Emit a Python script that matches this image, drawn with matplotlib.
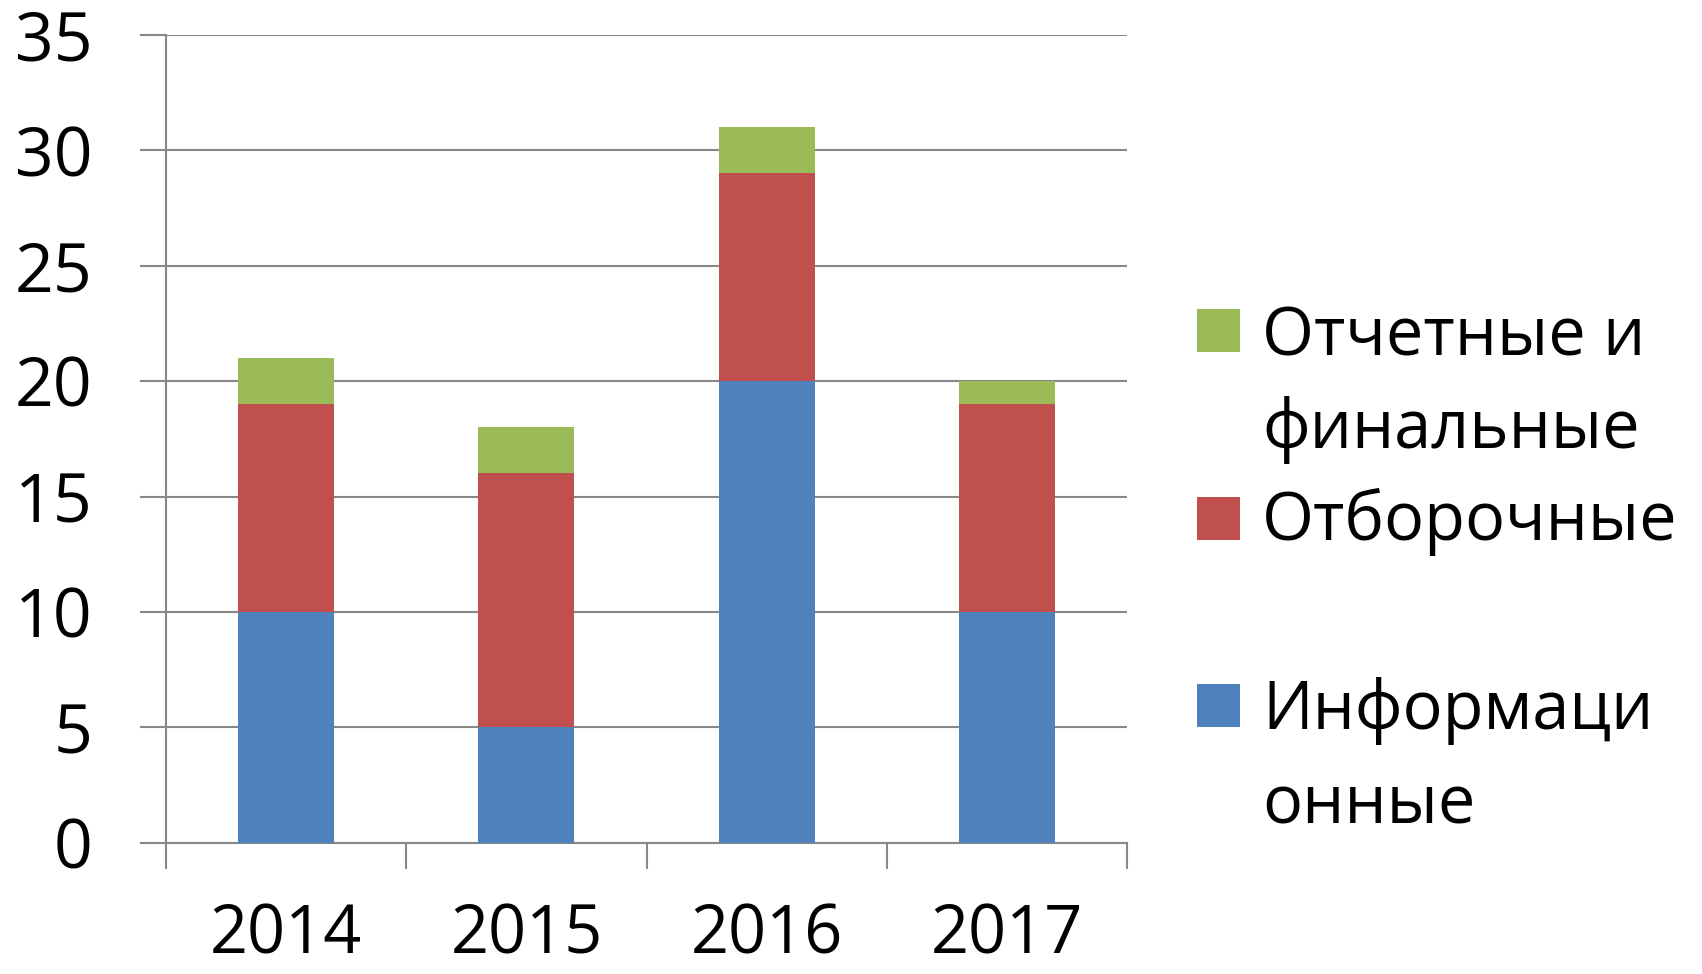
import matplotlib
matplotlib.use("Agg")
import matplotlib.pyplot as plt
from matplotlib.patches import Rectangle
import numpy as np

# dati
years = ['2014', '2015', '2016', '2017']
informacionnye = [10, 5, 20, 10]
otborochnye = [9, 11, 9, 9]
otchetnye = [2, 2, 2, 1]

labels = ['Отчетные и\nфинальные', 'Отборочные', 'Информаци\nонные']
colors = ['#9BBB59', '#C0504D', '#4F81BD']
grid_col = '#888888'

plt.rcParams['font.family'] = ['Open Sans', 'DejaVu Sans']

fig = plt.figure(figsize=(17.02, 9.74), dpi=100)
W, H = 1702, 974
ax = fig.add_axes([166 / W, 1 - 842.7 / H, (1127 - 166) / W, (842.7 - 35) / H])

x = np.arange(len(years))
bw = 0.4
ax.bar(x, informacionnye, bw, color=colors[2], zorder=3)
ax.bar(x, otborochnye, bw, bottom=informacionnye, color=colors[1], zorder=3)
bottom2 = [a + b for a, b in zip(informacionnye, otborochnye)]
ax.bar(x, otchetnye, bw, bottom=bottom2, color=colors[0], zorder=3)

ax.set_xlim(-0.5, 3.5)
ax.set_ylim(0, 35)
ax.set_yticks(range(0, 36, 5))
ax.yaxis.grid(True, color=grid_col, linewidth=1.5, zorder=0)
ax.tick_params(axis='y', length=19, width=1.5, color=grid_col, labelsize=49, pad=34)

ax.set_xticks(x)
ax.set_xticklabels(years)
ax.set_xticks(np.arange(-0.5, 4, 1), minor=True)
ax.tick_params(axis='x', which='major', length=0, labelsize=48, pad=43)
ax.tick_params(axis='x', which='minor', length=19, width=1.5, color=grid_col)

for s in ['top', 'right']:
    ax.spines[s].set_visible(False)
for s in ['left', 'bottom']:
    ax.spines[s].set_color(grid_col)
    ax.spines[s].set_linewidth(1.5)

# legenda fatta a mano
entries = [(309, [355, 448]), (497, [540]), (684, [729, 823])]
for (ptop, baselines), lab, c in zip(entries, labels, colors):
    fig.patches.append(Rectangle((1197 / W, 1 - (ptop + 43) / H), 43 / W, 43 / H,
                                 transform=fig.transFigure, facecolor=c, edgecolor='none'))
    for line, b in zip(lab.split('\n'), baselines):
        fig.text(1262 / W, 1 - b / H, line, fontsize=48, va='baseline', ha='left')

fig.savefig('out.png', dpi=100)
